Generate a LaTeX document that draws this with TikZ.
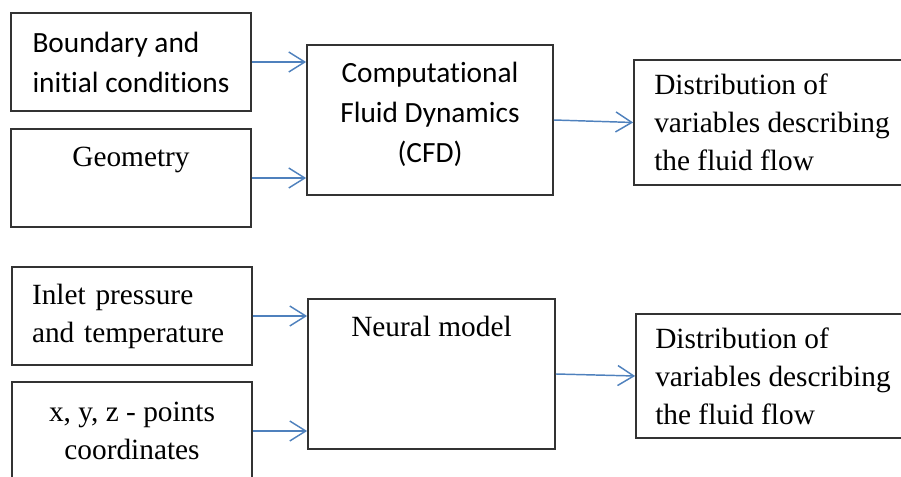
\documentclass[tikz,border=0pt]{standalone}
\usepackage{fontspec}
\setmainfont{Liberation Serif}
\newfontfamily\calibrifont[Ligatures=NoCommon]{Carlito}
\usepackage{tikz}
\usetikzlibrary{positioning, arrows.meta}
\definecolor{arrowblue}{RGB}{79,129,189}

\begin{document}
\begin{tikzpicture}[
  x=0.75pt, y=-0.75pt,
  >={Straight Barb[length=12pt, width=15pt]},
  every node/.style={font=\fontsize{22}{28.5}\selectfont},
  box/.style={draw=black!80, line width=1.3pt, minimum width=180pt, minimum height=73.5pt, inner sep=0pt},
  sans/.style={font=\calibrifont\fontsize{22}{30}\selectfont},
  flow/.style={->, line width=1.1pt, arrowblue}
]
\useasboundingbox (0,0) rectangle (901,477);
\clip (0,0) rectangle (901,477);

% CFD inputs
\node[box, sans, align=left] (bnd) at (131,62) {Boundary and\\initial conditions};
\node[box] (geom) at (131,178) {};
\node[anchor=base] (geomlbl) at ([yshift=-28.5pt]geom.north) {Geometry};

% CFD solver
\node[box, sans, align=center, minimum width=184.5pt, minimum height=112.5pt, text depth=12pt]
  (cfd) at (430,120) {Computational\\Fluid Dynamics\\(CFD)};

% CFD result
\node[box, align=left, minimum width=207pt, minimum height=93.75pt]
  (dist1) at (772,122.5) {Distribution of\\variables describing\\the fluid flow};

% Neural model inputs
\node[box, align=left, text width=150pt] (inlet) at (132,316) {Inlet pressure\\and temperature};
\node[box, align=center] (xyz) at (132,431) {x, y, z - points\\coordinates};

% Neural model
\node[box, minimum width=185.25pt, minimum height=112.5pt] (neural) at (431.5,374) {};
\node[anchor=base] (neurlbl) at ([yshift=-28.5pt]neural.north) {Neural model};

% Neural model result
\node[box, align=left, minimum width=205.5pt, minimum height=93pt]
  (dist2) at (773,376) {Distribution of\\variables describing\\the fluid flow};

% Arrows
\draw[flow] (bnd.east) -- (bnd.east -| cfd.west);
\draw[flow] (geom.east) -- (geom.east -| cfd.west);
\draw[flow] (cfd.east) -- (dist1.west);
\draw[flow] (inlet.east) -- (inlet.east -| neural.west);
\draw[flow] (xyz.east) -- (xyz.east -| neural.west);
\draw[flow] (neural.east) -- (dist2.west);

\end{tikzpicture}
\end{document}
